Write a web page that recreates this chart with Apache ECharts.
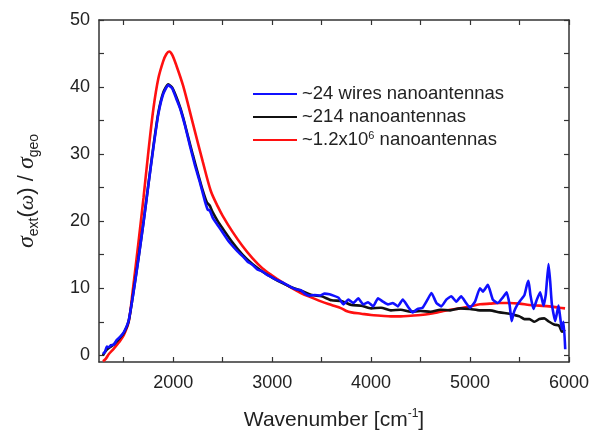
<!DOCTYPE html>
<html>
<head>
<meta charset="utf-8">
<script src="https://cdn.jsdelivr.net/npm/echarts@6/dist/echarts.min.js"></script>
<style>
html,body{margin:0;padding:0;background:#fff;}
#chart{width:602px;height:432px;}
</style>
</head>
<body>
<div id="chart"></div>
<script>
// ---- Data ----
const seriesNames = ['~24 wires nanoantennas', '~214 nanoantennas', '~1.2x10{sup|6} nanoantennas'];

const blueX = [1290,1310,1330,1350,1370,1400,1430,1460,1490,1520,1550,1600,1650,1700,1750,1800,1850,1900,1950,1990,2030,2070,2120,2170,2220,2270,2320,2350,2370,2400,2450,2500,2550,2600,2650,2700,2750,2800,2850,2900,2950,3000,3050,3100,3150,3200,3250,3290,3330,3380,3430,3480,3530,3580,3620,3670,3720,3770,3820,3870,3920,3970,4020,4070,4120,4170,4220,4270,4320,4370,4420,4470,4520,4570,4610,4660,4710,4760,4810,4860,4910,4960,5000,5050,5100,5130,5180,5230,5280,5330,5370,5400,5420,5445,5473,5510,5550,5575,5591,5610,5641,5675,5709,5742,5765,5793,5810,5827,5861,5894,5910,5928,5945,5962];
const blueY = [0.2,0.5,1.3,1.2,1.5,1.6,2.3,2.7,3.2,4.0,5.2,9.5,14.5,19.8,25.5,31.0,36.0,39.0,40.3,39.8,38.3,36.8,34.2,31.2,28.3,25.8,23.0,21.7,21.6,20.5,19.4,18.3,17.2,16.3,15.5,14.8,14.0,13.5,12.8,12.5,12.0,11.6,11.2,10.9,10.5,10.1,9.8,9.7,9.2,8.9,9.0,8.9,9.2,9.1,8.9,8.6,7.6,8.3,7.8,8.5,7.6,7.9,7.3,8.5,8.0,7.6,7.8,7.3,8.3,7.3,6.4,6.9,7.1,8.3,9.3,7.8,7.3,8.3,8.8,8.0,8.8,7.8,7.1,8.0,10.0,9.5,10.5,8.3,7.8,8.6,9.4,7.5,5.1,6.5,7.4,8.2,9.0,10.5,11.1,9.0,6.9,8.3,9.4,7.4,9.0,13.6,11.0,7.6,5.1,7.4,5.8,3.9,5.0,0.9];

const blackX = [1290,1320,1350,1400,1450,1500,1550,1600,1650,1700,1750,1800,1850,1900,1950,1990,2050,2100,2150,2200,2250,2300,2340,2370,2400,2450,2500,2600,2700,2800,2900,3000,3100,3200,3300,3400,3500,3600,3700,3800,3900,4000,4100,4200,4300,4400,4500,4600,4700,4800,4900,5000,5100,5200,5300,5400,5450,5500,5550,5600,5650,5700,5750,5800,5850,5900,5930,5960];
const blackY = [0.0,0.7,1.1,1.6,2.4,3.3,5.1,9.6,14.6,19.9,25.6,31.2,36.2,39.2,40.4,39.9,37.8,35.5,32.6,29.8,27.1,24.5,22.8,22.3,21.3,20.0,18.9,16.8,15.0,13.6,12.5,11.6,10.8,10.1,9.6,9.0,8.8,8.2,8.1,7.5,7.4,7.0,7.1,6.7,6.8,6.5,6.6,6.5,6.8,6.7,7.0,6.9,6.7,6.7,6.4,6.2,6.0,5.8,5.4,5.4,5.0,5.4,5.5,5.0,4.6,4.4,3.5,3.8];

const redX = [1290,1320,1350,1400,1450,1500,1550,1590,1650,1700,1750,1800,1850,1900,1930,1960,1990,2030,2100,2200,2300,2380,2450,2500,2600,2700,2800,2900,3000,3100,3200,3300,3400,3500,3600,3700,3750,3800,3900,4000,4100,4200,4300,4400,4500,4600,4700,4800,4900,5000,5100,5200,5300,5400,5500,5600,5700,5800,5900,5960];
const redY = [-0.9,-0.5,0.2,1.0,1.9,3.0,5.0,9.5,17.0,23.5,30.5,36.8,41.3,43.9,44.9,45.3,44.8,43.3,40.2,34.5,28.8,24.5,22.2,20.8,18.4,16.3,14.5,13.0,11.9,10.9,10.0,9.2,8.6,8.0,7.5,7.0,6.6,6.4,6.2,6.0,5.9,5.8,5.8,5.9,6.0,6.2,6.5,6.8,7.0,7.3,7.6,7.7,7.8,7.8,7.7,7.5,7.4,7.3,7.1,7.0];

const xLabelValues = [2000,3000,4000,5000,6000];
const xTickValues = [1500,2000,2500,3000,3500,4000,4500,5000,5500,6000];
const yLabelValues = [0,10,20,30,40,50];
const yTickValues = [0,5,10,15,20,25,30,35,40,45,50];

function pairs(xs, ys){ return xs.map((x,i)=>[x, ys[i]]); }

const FONT = '"Liberation Sans", Arial, sans-serif';
const TXT = '#222';
const AX = '#333';

const chart = echarts.init(document.getElementById('chart'), null, {renderer:'canvas'});

const baseX = {
  type:'value', min:1250, max:6000,
  splitLine:{show:false},
  axisLine:{show:true, onZero:false, lineStyle:{color:AX, width:1.5}},
  axisTick:{show:true, inside:true, length:5, customValues:xTickValues, lineStyle:{color:AX, width:1.2}}
};
const baseY = {
  type:'value', min:-1, max:50,
  splitLine:{show:false},
  axisLine:{show:true, onZero:false, lineStyle:{color:AX, width:1.5}},
  axisTick:{show:true, inside:true, length:5, customValues:yTickValues, lineStyle:{color:AX, width:1.2}}
};

const option = {
  backgroundColor:'#fff',
  animation:false,
  grid:{left:99, right:33, top:20, bottom:70, containLabel:false, outerBoundsMode:'none'},
  legend:{
    orient:'vertical', left:248, top:79,
    itemWidth:44, itemHeight:12, itemGap:3,
    icon:'path://M0,5 L44,5 L44,7 L0,7 Z',
    data:[
      {name:seriesNames[0]},
      {name:seriesNames[1]},
      {name:seriesNames[2]}
    ],
    formatter: n => n,
    textStyle:{fontFamily:FONT, fontSize:18.5, color:TXT, lineHeight:20,
      rich:{sup:{fontFamily:FONT, fontSize:11, lineHeight:11, verticalAlign:'top', color:TXT}}}
  },
  xAxis:[
    Object.assign({}, baseX, {
      position:'bottom',
      axisLabel:{show:true, customValues:xLabelValues, formatter: v => String(v), fontFamily:FONT, fontSize:18, color:TXT, margin:12},
      name:'Wavenumber [cm{sup|-1}]', nameLocation:'middle', nameGap:46,
      nameTextStyle:{fontFamily:FONT, fontSize:21, color:TXT, lineHeight:24,
        rich:{sup:{fontFamily:FONT, fontSize:12, lineHeight:12, verticalAlign:'top', color:TXT}}}
    }),
    Object.assign({}, baseX, {position:'top', axisLabel:{show:false}})
  ],
  yAxis:[
    Object.assign({}, baseY, {
      position:'left',
      axisLabel:{show:true, customValues:yLabelValues, formatter: v => String(v), fontFamily:FONT, fontSize:18, color:TXT, margin:9},
      name:'{s|σ}{sub|ext}{t|(}{w|ω}{t|) / }{s|σ}{sub|geo}', nameLocation:'middle', nameGap:58, nameRotate:90,
      nameTextStyle:{fontFamily:FONT, fontSize:22, color:TXT, lineHeight:28,
        rich:{
          s:{fontFamily:'"Liberation Serif", serif', fontStyle:'italic', fontSize:24, lineHeight:28, color:TXT},
          w:{fontFamily:'"Liberation Serif", serif', fontStyle:'italic', fontSize:22, lineHeight:28, color:TXT},
          t:{fontFamily:FONT, fontSize:22, lineHeight:28, color:TXT},
          sub:{fontFamily:FONT, fontSize:14, lineHeight:14, verticalAlign:'bottom', color:TXT}
        }}
    }),
    Object.assign({}, baseY, {position:'right', axisLabel:{show:false}})
  ],
  series:[
    {name:seriesNames[0], type:'line', data:pairs(blueX, blueY), symbol:'none', smooth:0.15, z:4,
      lineStyle:{color:'#1010ff', width:2.6}, itemStyle:{color:'#1010ff'}},
    {name:seriesNames[1], type:'line', data:pairs(blackX, blackY), symbol:'none', smooth:0.2, z:3,
      lineStyle:{color:'#111', width:2.6}, itemStyle:{color:'#111'}},
    {name:seriesNames[2], type:'line', data:pairs(redX, redY), symbol:'none', smooth:0.3, z:2,
      lineStyle:{color:'#ff1010', width:2.6}, itemStyle:{color:'#ff1010'}}
  ]
};
chart.setOption(option);
</script>
</body>
</html>
